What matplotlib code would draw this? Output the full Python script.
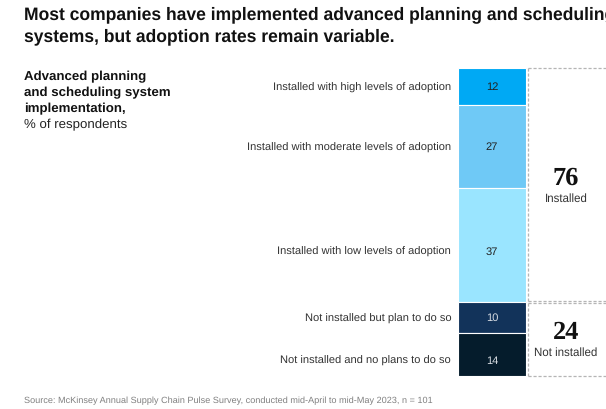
import matplotlib.pyplot as plt

categories = [
    "Installed with high levels of adoption",
    "Installed with moderate levels of adoption",
    "Installed with low levels of adoption",
    "Not installed but plan to do so",
    "Not installed and no plans to do so",
]
values = [12, 27, 37, 10, 14]
colors = ["#00a9f4", "#6fc9f6", "#9ae5ff", "#12335a", "#051c2c"]
text_colors = ["#222222", "#222222", "#222222", "#d8dde3", "#d8dde3"]
label_shift = [0, 0, 2.0, 0, 1.8]  # small vertical nudges seen in the original
groups = ["Installed", "Not installed"]
group_totals = [76, 24]

plt.rcParams["font.family"] = ["Liberation Sans", "DejaVu Sans"]
plt.rcParams["text.hinting"] = "no_hinting"

fig = plt.figure(figsize=(6.06, 4.10), dpi=100)
W, H = 606, 410

def fx(px):
    return px / W

def fy(py):
    return 1 - py / H

# the original headline runs past the right edge of the picture
fig.text(fx(24), fy(15), "Most companies have implemented advanced planning and scheduling",
         fontsize=12.65, fontweight="bold", va="center", ha="left", color="#111111")
fig.text(fx(24), fy(37), "systems, but adoption rates remain variable.",
         fontsize=12.65, fontweight="bold", va="center", ha="left", color="#111111")

for i, line in enumerate(["Advanced planning", "and scheduling system", "implementation,"]):
    fig.text(fx(24), fy(77 + i * 16), line, fontsize=9.5, fontweight="bold",
             va="center", ha="left", color="#111111")
fig.text(fx(24), fy(77 + 3 * 16), "% of respondents", fontsize=9.5,
         va="center", ha="left", color="#222222")

fig.text(fx(24), fy(401), "Source: McKinsey Annual Supply Chain Pulse Survey, conducted mid-April to mid-May 2023, n = 101",
         fontsize=6.55, va="center", ha="left", color="#808080")

# bar axes: bar occupies x 458..526 px, y 69..377 px
ax = fig.add_axes([fx(458), fy(377), fx(606 - 458), (377 - 69) / H])
ax.set_xlim(0, (606 - 458) / 68)
ax.set_ylim(100, 0)
ax.axis("off")

bottom = 0
for cat, v, c, tc, s in zip(categories, values, colors, text_colors, label_shift):
    ax.bar(0.5, v, width=1, bottom=bottom, color=c, edgecolor="white", linewidth=0.8)
    mid = bottom + v / 2 + s
    ax.text(0.5, mid, str(v), ha="center", va="center", fontsize=8, color=tc)
    ax.text(-0.1, mid, cat, ha="right", va="center", fontsize=8, color="#333333", clip_on=False)
    bottom += v

# group brackets
dash = dict(color="#b5b5b5", linestyle=(0, (2.5, 1.5)), linewidth=0.9, clip_on=False)
xr = ax.get_xlim()[1]
ax.plot([1.03, xr], [0, 0], **dash)
ax.plot([1.03, xr], [group_totals[0] - 0.2, group_totals[0] - 0.2], **dash)
ax.plot([1.03, xr], [group_totals[0] + 0.3, group_totals[0] + 0.3], **dash)
ax.plot([1.03, xr], [100, 100], **dash)
ax.plot([1.03, 1.03], [0, group_totals[0] - 0.2], **dash)
ax.plot([1.03, 1.03], [group_totals[0] + 0.3, 100], **dash)

cx = (566 - 458) / 68
start = 0
for g, t in zip(groups, group_totals):
    mid = start + t / 2
    ax.text(cx, mid - 2.4, str(t), ha="center", va="center", fontsize=19,
            fontweight="bold", family=["Liberation Serif", "DejaVu Serif"], color="#111111")
    ax.text(cx, mid + 4.2, g, ha="center", va="center", fontsize=8.3, color="#333333")
    start += t

fig.savefig("out.png", dpi=100)
